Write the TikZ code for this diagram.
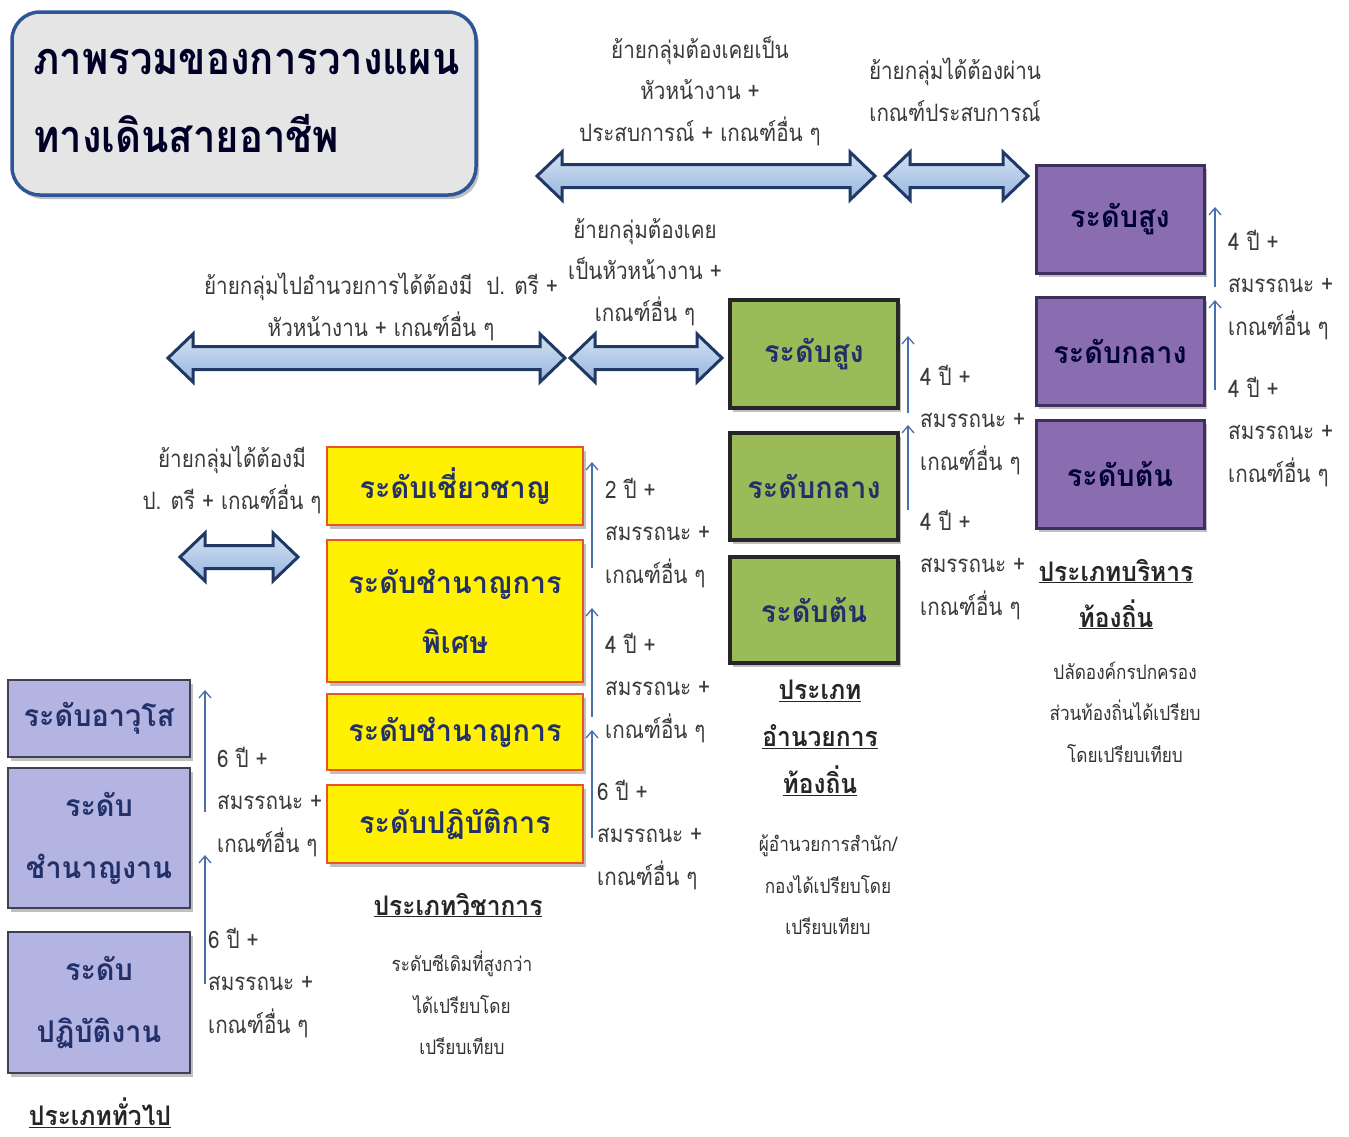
\documentclass[tikz,border=0pt]{standalone}
\usepackage{fontspec}
\setmainfont[Script=Thai,FakeStretch=0.86]{Loma}
\newfontfamily\boxfont[Script=Thai,FakeStretch=0.96]{Loma}
\newfontfamily\ttlfont[Script=Thai,FakeStretch=0.89]{Loma}
\newfontfamily\captfont[Script=Thai,FakeStretch=0.91]{Loma}
\usetikzlibrary{shadows,arrows.meta}
\definecolor{navy}{HTML}{1F3864}
\definecolor{boxtext}{HTML}{22306A}
\definecolor{lbl}{HTML}{3A3A3A}
\definecolor{arrblue}{HTML}{4A6FAE}
\definecolor{yel}{HTML}{FFF100}
\definecolor{yelb}{HTML}{E8532B}
\definecolor{grn}{HTML}{9BBB59}
\definecolor{pur}{HTML}{8A6DB1}
\definecolor{purb}{HTML}{3F2F5F}
\definecolor{lav}{HTML}{B4B4E2}
\definecolor{lavb}{HTML}{404050}
\definecolor{arrtop}{HTML}{D3E1F2}
\definecolor{arrbot}{HTML}{96B6DE}
\definecolor{ttlb}{HTML}{2E5596}
\newcommand\fs[2]{\fontsize{#1}{#2}\selectfont}
\newcommand\DblArr[3]{%
  \draw[blkarrow] (#1,#3) -- (#1+25,#3-24) -- (#1+25,#3-11.5) -- (#2-25,#3-11.5) -- (#2-25,#3-24)
   -- (#2,#3) -- (#2-25,#3+24) -- (#2-25,#3+11.5) -- (#1+25,#3+11.5) -- (#1+25,#3+24) -- cycle;}
\tikzset{
  shd/.style={drop shadow={shadow xshift=3pt,shadow yshift=-4pt,opacity=.35,fill=black!70}},
  lvl/.style={shd,rectangle,inner sep=0pt,align=center,text=boxtext,font=\boxfont\fs{30}{36}\bfseries},
  ybox/.style={lvl,fill=yel,draw=yelb,line width=1.8pt},
  gbox/.style={lvl,fill=grn,draw=black!85,line width=3.5pt,minimum width=168pt},
  pbox/.style={lvl,fill=pur,draw=purb,line width=3pt,minimum width=168pt,minimum height=108pt,text=black!80!blue},
  lbox/.style={lvl,fill=lav,draw=lavb,line width=2.2pt,minimum width=182pt},
  blkarrow/.style={draw=navy,line width=3pt,line join=miter,top color=arrtop,bottom color=arrbot},
  uparr/.style={draw=arrblue,line width=1.3pt,-{Straight Barb[length=7pt,width=12pt]}},
  lab/.style={anchor=west,align=left,text=lbl,inner sep=0pt,font=\fs{24}{42.5}},
  anote/.style={align=center,text=lbl,inner sep=0pt,font=\fs{24}{41.5}},
  snote/.style={align=center,text=black!80,inner sep=0pt,font=\fs{20}{41.5}},
  capt/.style={align=center,text=black!85,inner sep=0pt,font=\captfont\fs{27}{46}\bfseries},
}
\begin{document}
\begin{tikzpicture}[x=1pt,y=-1pt]
\useasboundingbox[fill=white] (0,0) rectangle (1349,1136);
% title
\node[shd,draw=ttlb,line width=3.5pt,rounded corners=28pt,fill=black!10,
  minimum width=464pt,minimum height=183pt] (title) at (244,103.5) {};
\node[anchor=west,inner sep=0pt,text=black!85!blue,font=\ttlfont\fs{45}{50}\bfseries] (t1) at (33,62) {ภาพรวมของการวางแผน};
\node[anchor=west,inner sep=0pt,text=black!85!blue,font=\ttlfont\fs{45}{50}\bfseries] (t2) at (33,134) {ทางเดินสายอาชีพ};
% block arrows
\DblArr{537}{875}{176}
\DblArr{885}{1028}{176}
\DblArr{168}{565}{358}
\DblArr{570}{722}{358}
\DblArr{180}{298}{557}
% arrow texts
\node[anote] (n1) at (700,91) {ย้ายกลุ่มต้องเคยเป็น\\หัวหน้างาน +\\ประสบการณ์ + เกณฑ์อื่น ๆ};
\node[anote] (n2) at (955,90) {ย้ายกลุ่มได้ต้องผ่าน\\เกณฑ์ประสบการณ์};
\node[anote] (n3) at (381,307) {ย้ายกลุ่มไปอำนวยการได้ต้องมี\ \ ป. ตรี +\\หัวหน้างาน + เกณฑ์อื่น ๆ};
\node[anote] (n4) at (645,272) {ย้ายกลุ่มต้องเคย\\เป็นหัวหน้างาน +\\เกณฑ์อื่น ๆ};
\node[anote] (n5) at (232,480) {ย้ายกลุ่มได้ต้องมี\\ป. ตรี + เกณฑ์อื่น ๆ};
% yellow (academic)
\node[ybox,minimum width=256pt,minimum height=78pt] (y1) at (455,486) {ระดับเชี่ยวชาญ};
\node[ybox,minimum width=256pt,minimum height=142pt,font=\boxfont\fs{30}{60}\bfseries] (y2) at (455,611) {ระดับชำนาญการ\\พิเศษ};
\node[ybox,minimum width=256pt,minimum height=76pt] (y3) at (455,732) {ระดับชำนาญการ};
\node[ybox,minimum width=256pt,minimum height=78pt] (y4) at (455,824) {ระดับปฏิบัติการ};
% green (director)
\node[gbox,minimum height=108pt] (g1) at (814,354) {ระดับสูง};
\node[gbox,minimum height=107pt] (g2) at (814,486.5) {ระดับกลาง};
\node[gbox,minimum height=106pt] (g3) at (814,610) {ระดับต้น};
% purple (executive)
\node[pbox] (p1) at (1120,219) {ระดับสูง};
\node[pbox] (p2) at (1120,351) {ระดับกลาง};
\node[pbox] (p3) at (1120,474) {ระดับต้น};
% lavender (general)
\node[lbox,minimum height=77pt] (l1) at (99,718.5) {ระดับอาวุโส};
\node[lbox,minimum height=140pt,font=\boxfont\fs{30}{62}\bfseries] (l2) at (99,838) {ระดับ\\ชำนาญงาน};
\node[lbox,minimum height=141pt,font=\boxfont\fs{30}{62}\bfseries] (l3) at (99,1002.5) {ระดับ\\ปฏิบัติงาน};
% vertical arrows
\coordinate (ya1) at (592,568); \coordinate (ya2) at (592,462);
\coordinate (yb1) at (592,717); \coordinate (yb2) at (592,608);
\coordinate (yc1) at (592,838); \coordinate (yc2) at (592,730);
\coordinate (ga1) at (908,413); \coordinate (ga2) at (908,336);
\coordinate (gb1) at (908,510); \coordinate (gb2) at (908,425);
\coordinate (pa1) at (1215,287); \coordinate (pa2) at (1215,207);
\coordinate (pb1) at (1215,390); \coordinate (pb2) at (1215,300);
\coordinate (la1) at (205,812); \coordinate (la2) at (205,690);
\coordinate (lb1) at (205,984); \coordinate (lb2) at (205,855);
\foreach \a/\b in {ya1/ya2,yb1/yb2,yc1/yc2,ga1/ga2,gb1/gb2,pa1/pa2,pb1/pb2,la1/la2,lb1/lb2}
  \draw[uparr] (\a) -- (\b);
% labels
\node[lab] (ly1) at (605,533) {2 ปี +\\สมรรถนะ +\\เกณฑ์อื่น ๆ};
\node[lab] (ly2) at (605,688) {4 ปี +\\สมรรถนะ +\\เกณฑ์อื่น ๆ};
\node[lab] (ly3) at (597,835) {6 ปี +\\สมรรถนะ +\\เกณฑ์อื่น ๆ};
\node[lab] (lg1) at (920,420) {4 ปี +\\สมรรถนะ +\\เกณฑ์อื่น ๆ};
\node[lab] (lg2) at (920,565) {4 ปี +\\สมรรถนะ +\\เกณฑ์อื่น ๆ};
\node[lab] (lp1) at (1228,285) {4 ปี +\\สมรรถนะ +\\เกณฑ์อื่น ๆ};
\node[lab] (lp2) at (1228,432) {4 ปี +\\สมรรถนะ +\\เกณฑ์อื่น ๆ};
\node[lab] (ll1) at (217,802) {6 ปี +\\สมรรถนะ +\\เกณฑ์อื่น ๆ};
\node[lab] (ll2) at (208,983) {6 ปี +\\สมรรถนะ +\\เกณฑ์อื่น ๆ};
% captions
\node[capt] (cy) at (458,905) {\underline{ประเภทวิชาการ}};
\node[snote] (sy) at (462,1003) {ระดับซีเดิมที่สูงกว่า\\ได้เปรียบโดย\\เปรียบเทียบ};
\node[capt,font=\captfont\fs{27}{47}\bfseries] (cg) at (820,738) {\underline{ประเภท}\\\underline{อำนวยการ}\\\underline{ท้องถิ่น}};
\node[snote] (sg) at (828,885) {ผู้อำนวยการสำนัก/\\กองได้เปรียบโดย\\เปรียบเทียบ};
\node[capt] (cp) at (1116,594) {\underline{ประเภทบริหาร}\\\underline{ท้องถิ่น}};
\node[snote] (sp) at (1125,712) {ปลัดองค์กรปกครอง\\ส่วนท้องถิ่นได้เปรียบ\\โดยเปรียบเทียบ};
\node[capt] (cl) at (100,1113) {\underline{ประเภททั่วไป}};
\end{tikzpicture}
\end{document}
